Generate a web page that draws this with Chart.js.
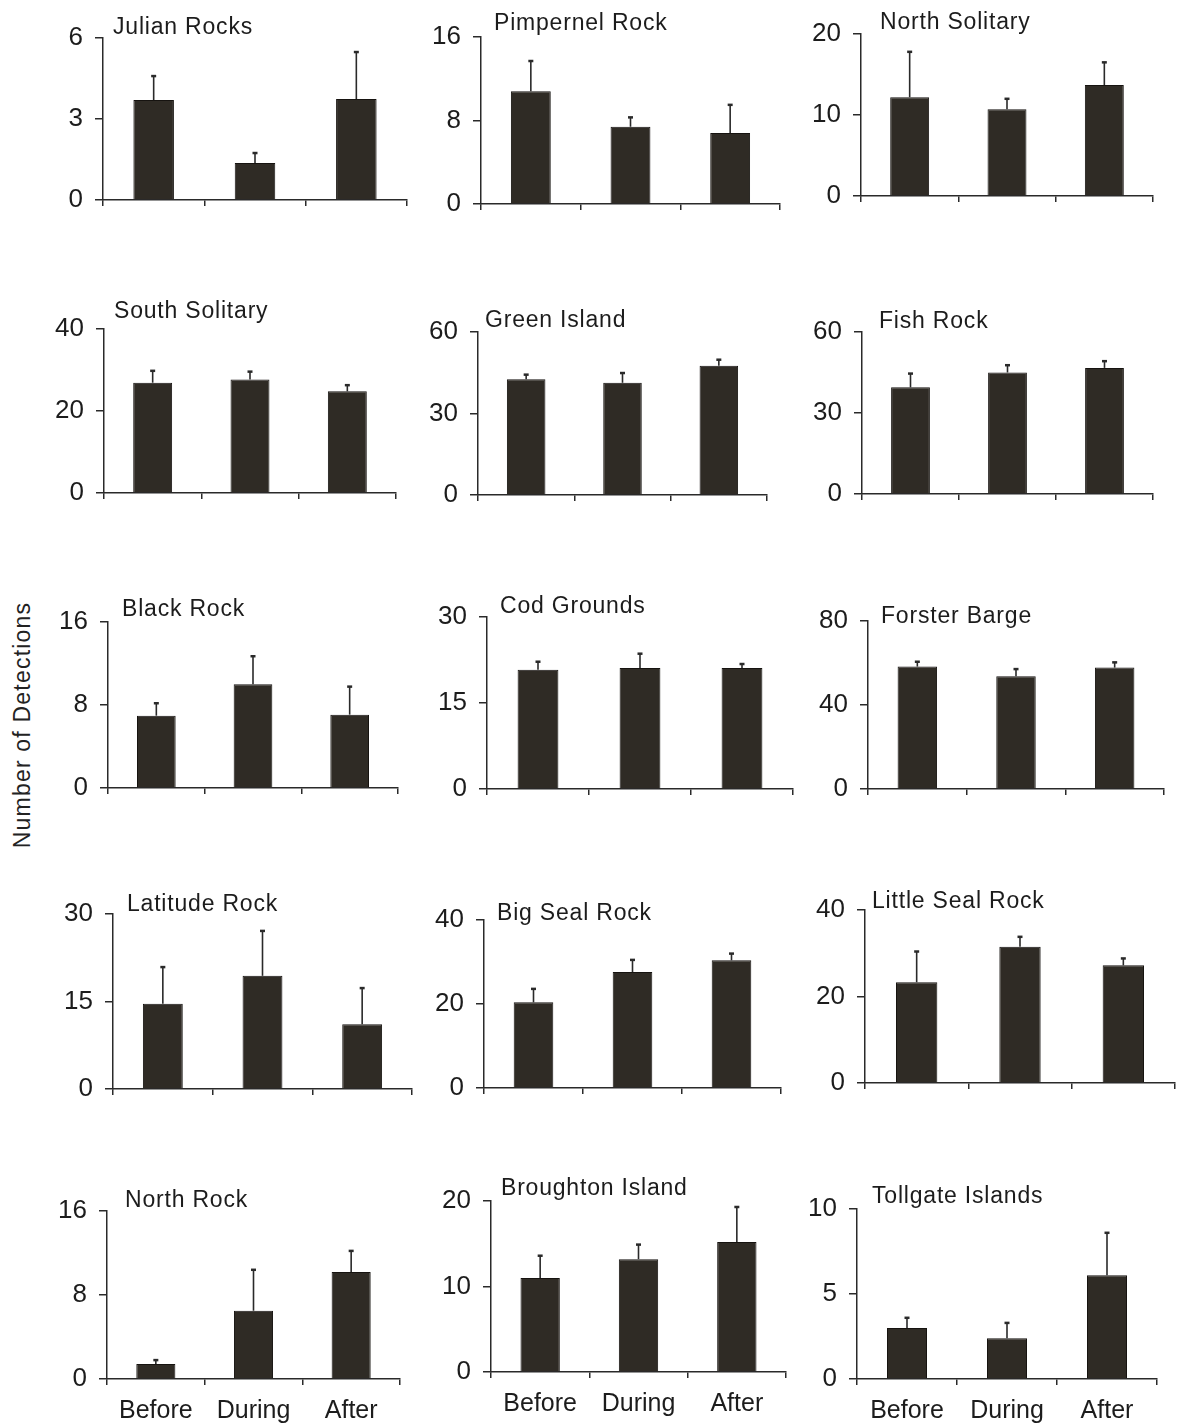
<!DOCTYPE html>
<html>
<head>
<meta charset="utf-8">
<title>Number of Detections by site</title>
<script src="https://cdn.jsdelivr.net/npm/chart.js@4.4.1/dist/chart.umd.min.js"></script>
<style>
  html, body { margin: 0; padding: 0; background: #fff; }
  #page { position: relative; width: 1178px; height: 1428px; overflow: hidden; }
  #page canvas { position: absolute; }
  #ylabel {
    position: absolute; left: 22px; top: 725px;
    transform: translate(-50%, -50%) rotate(-90deg);
    font: 23px "Liberation Sans", Arial, sans-serif;
    letter-spacing: 1.2px; white-space: nowrap; color: #222;
  }
</style>
</head>
<body>
<div id="page"><div id="ylabel">Number of Detections</div></div>
<script>
const periods = ['Before', 'During', 'After'];

const sites = [
    'Julian Rocks', 'Pimpernel Rock', 'North Solitary',
    'South Solitary', 'Green Island', 'Fish Rock',
    'Black Rock', 'Cod Grounds', 'Forster Barge',
    'Latitude Rock', 'Big Seal Rock', 'Little Seal Rock',
    'North Rock', 'Broughton Island', 'Tollgate Islands'
];

// mean detections per period (Before, During, After)
const means = [
    [3.7, 1.37, 3.74], [10.8, 7.4, 6.8], [12.2, 10.7, 13.7],
    [26.9, 27.7, 24.8], [42.6, 41.3, 47.6], [39.5, 45.0, 46.7],
    [6.97, 10.0, 7.07], [20.8, 21.1, 21.1], [58.3, 53.7, 57.8],
    [14.6, 19.4, 11.1], [20.4, 27.6, 30.4], [23.3, 31.5, 27.2],
    [1.43, 6.5, 10.2], [11.0, 13.2, 15.2], [3.0, 2.4, 6.1]
];

// upper error bar length (SE)
const errors = [
    [0.89, 0.37, 1.74], [2.9, 0.9, 2.7], [5.6, 1.3, 2.8],
    [2.9, 1.9, 1.5], [1.7, 3.6, 2.2], [5.1, 2.7, 2.5],
    [1.2, 2.7, 2.7], [1.4, 2.5, 0.7], [2.3, 3.4, 2.5],
    [6.3, 7.7, 6.2], [3.2, 2.9, 1.6], [7.1, 2.3, 1.6],
    [0.37, 3.9, 2.0], [2.6, 1.7, 4.1], [0.6, 0.9, 2.5]
];

// y axis top; ticks at 0, max/2, max
const yMax = [6, 16, 20, 40, 60, 60, 16, 30, 80, 30, 40, 40, 16, 20, 10];

// layout only: [axis x, top y, zero y, right x, title dx, title dy]
const boxes = [
    [103, 38, 200, 407, 10, 10], [481, 37, 204, 780, 13, 13], [861, 34, 196, 1153, 19, 11],
    [104, 329, 493, 396, 10, 17], [478, 332, 495, 767, 7, 11], [862, 332, 494, 1153, 17, 10],
    [108, 622, 788, 398, 14, 12], [487, 617, 789, 793, 13, 10], [868, 621, 789, 1164, 13, 4],
    [113, 914, 1089, 412, 14, 9], [484, 920, 1088, 781, 13, 6], [865, 910, 1083, 1175, 7, 8],
    [107, 1211, 1379, 400, 18, 10], [491, 1201, 1372, 786, 10, 12], [857, 1209, 1379, 1157, 15, 12]
];

const FONT = '"Liberation Sans", Arial, sans-serif';
const TEXT = '#1c1c1c';
const AXIS = '#2a2a2a';
const BAR = '#2f2b25';
const BAR_EDGE = '#161310';
const YW = 100, XH = 58, PT = 45, PR = 12;

const siteTitle = {
    id: 'siteTitle',
    afterDraw(chart, args, opts) {
        const { ctx, chartArea } = chart;
        ctx.save();
        ctx.font = '23px ' + FONT;
        ctx.letterSpacing = '0.8px';
        ctx.fillStyle = TEXT;
        ctx.textBaseline = 'middle';
        ctx.fillText(opts.text, chartArea.left + opts.dx, chartArea.top - opts.dy);
        ctx.restore();
    }
};

const errorBars = {
    id: 'errorBars',
    afterDatasetsDraw(chart) {
        const { ctx } = chart;
        const y = chart.scales.y;
        const ds = chart.data.datasets[0];
        ctx.save();
        ctx.strokeStyle = AXIS;
        chart.getDatasetMeta(0).data.forEach((bar, i) => {
            const top = y.getPixelForValue(ds.data[i] + ds.errors[i]);
            ctx.lineWidth = 1.6;
            ctx.beginPath();
            ctx.moveTo(bar.x, bar.y);
            ctx.lineTo(bar.x, top);
            ctx.stroke();
            ctx.lineWidth = 2.5;
            ctx.beginPath();
            ctx.moveTo(bar.x - 2.5, top);
            ctx.lineTo(bar.x + 2.5, top);
            ctx.stroke();
        });
        ctx.restore();
    }
};

const page = document.getElementById('page');

sites.forEach((site, k) => {
    const [ax, top, zero, right, dx, dy] = boxes[k];
    const bottomRow = k >= 12;
    const canvas = document.createElement('canvas');
    canvas.width = right - ax + YW + PR;
    canvas.height = zero - top + PT + XH;
    canvas.style.left = (ax - YW) + 'px';
    canvas.style.top = (top - PT) + 'px';
    page.appendChild(canvas);

    new Chart(canvas, {
        type: 'bar',
        data: {
            labels: periods,
            datasets: [{
                data: means[k],
                errors: errors[k],
                backgroundColor: BAR,
                borderColor: BAR_EDGE,
                borderWidth: 1,
                categoryPercentage: 1,
                barPercentage: 0.4
            }]
        },
        options: {
            responsive: false,
            animation: false,
            devicePixelRatio: 1,
            layout: { padding: { top: PT, right: PR, bottom: 0, left: 0 } },
            plugins: {
                legend: { display: false },
                tooltip: { enabled: false },
                siteTitle: { text: site, dx, dy }
            },
            scales: {
                x: {
                    offset: true,
                    grid: {
                        display: true, offset: true, drawOnChartArea: false,
                        tickLength: 6, color: AXIS, lineWidth: 1.5
                    },
                    border: { display: true, color: AXIS, width: 1.5 },
                    ticks: {
                        display: bottomRow, color: TEXT, padding: 11, maxRotation: 0,
                        font: { family: FONT, size: 25 }
                    },
                    afterFit: s => { s.height = XH; }
                },
                y: {
                    min: 0,
                    max: yMax[k],
                    ticks: {
                        stepSize: yMax[k] / 2, color: TEXT, padding: 12,
                        font: { family: FONT, size: 26 }
                    },
                    grid: {
                        drawOnChartArea: false, tickLength: 8,
                        color: AXIS, lineWidth: 1.5
                    },
                    border: { display: true, color: AXIS, width: 1.5 },
                    afterFit: s => { s.width = YW; }
                }
            }
        },
        plugins: [siteTitle, errorBars]
    });
});
</script>
</body>
</html>
